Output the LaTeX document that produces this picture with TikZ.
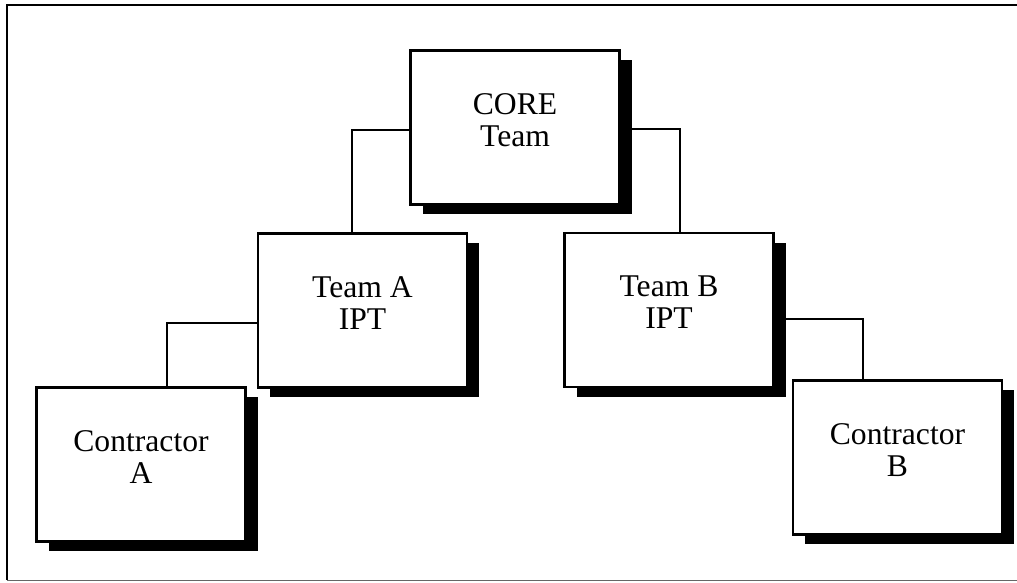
\documentclass[tikz,border=0pt]{standalone}
\usepackage{fontspec}
\setmainfont{Liberation Serif}
\usepackage{tikz}
\usetikzlibrary{shadows}

\begin{document}
\begin{tikzpicture}
				\useasboundingbox (0,0) rectangle (20.34,11.66);
				\draw[line width=1.4pt] (20.34,11.56) -- (0.14,11.56) -- (0.14,0.06);
				\draw[line width=0.5pt,black!60] (0.14,0.06) -- (20.34,0.06);
				\begin{scope}[every node/.style={rectangle,draw,fill=white,line width=1.4pt,minimum width=4.18cm,minimum height=3.08cm,align=center,text depth=0.3cm,font=\fontsize{18}{18.2}\selectfont,drop shadow={shadow xshift=0.24cm,shadow yshift=-0.2cm,fill=black,opacity=1}}]
					\node (core) at (10.30,9.11) {CORE\\Team};

					\node (team_A) at (7.25,5.45) {Team A\\IPT};
					\node (team_B) at (13.38,5.46) {Team B\\IPT};

					\node (contractor_A) at (2.82,2.37) {Contractor\\A};
					\node (contractor_B) at (17.95,2.51) {Contractor\\B};
				\end{scope}
				\begin{scope}[line width=1.3pt]
					\draw ([yshift=-0.05cm]core.west) -| ([xshift=-0.21cm]team_A.north);
					\draw ([yshift=-0.03cm]core.east) -| ([xshift=0.22cm]team_B.north);

					\draw ([yshift=-0.25cm]team_A.west) -| ([xshift=0.52cm]contractor_A.north);
					\draw ([yshift=-0.18cm]team_B.east) -| ([xshift=-0.69cm]contractor_B.north);
				\end{scope}
			\end{tikzpicture}
\end{document}
